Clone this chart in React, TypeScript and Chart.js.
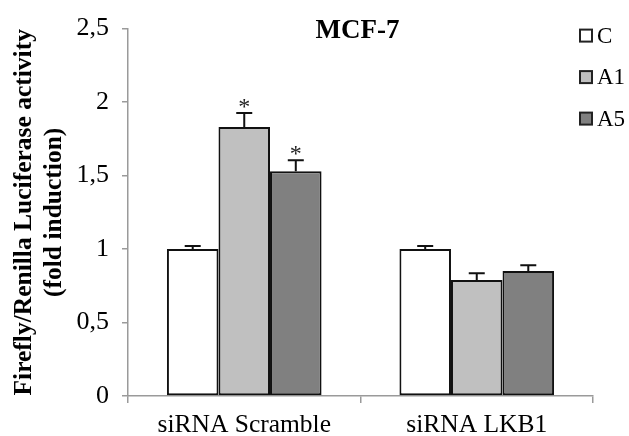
import React, { useEffect, useRef } from 'react';
import { Chart, registerables } from 'chart.js';

Chart.register(...registerables);

// ---- data ----
const categories = ['siRNA Scramble', 'siRNA LKB1'];
const seriesNames = ['C', 'A1', 'A5'];
const cValues = [1.0, 1.0];
const a1Values = [1.83, 0.79];
const a5Values = [1.53, 0.85];
const cErrors = [0.02, 0.02];
const a1Errors = [0.095, 0.045];
const a5Errors = [0.075, 0.04];
const cStars = [false, false];
const a1Stars = [true, false];
const a5Stars = [true, false];
const yTickValues = [0, 0.5, 1, 1.5, 2, 2.5];
const chartTitle = 'MCF-7';
const yAxisTitle = ['Firefly/Renilla Luciferase activity', '(fold induction)'];

const FONT = "'Liberation Serif', 'Times New Roman', Times, serif";
const seriesColors = ['#ffffff', '#c0c0c0', '#808080'];
const seriesValues = [cValues, a1Values, a5Values];
const seriesErrors = [cErrors, a1Errors, a5Errors];
const seriesStars = [cStars, a1Stars, a5Stars];

const errorBarPlugin = {
  id: 'errorBars',
  afterDatasetsDraw(chart: any) {
    const ctx = chart.ctx;
    const yScale = chart.scales.y;
    ctx.save();
    chart.data.datasets.forEach((ds: any, di: number) => {
      const meta = chart.getDatasetMeta(di);
      meta.data.forEach((bar: any, i: number) => {
        const v = ds.data[i];
        const e = ds.errors[i];
        const yTop = yScale.getPixelForValue(v);
        const yErr = yScale.getPixelForValue(v + e);
        const x = bar.x;
        ctx.strokeStyle = '#111';
        ctx.lineWidth = 2;
        ctx.beginPath();
        ctx.moveTo(x, yTop);
        ctx.lineTo(x, yErr);
        ctx.moveTo(x - 8, yErr);
        ctx.lineTo(x + 8, yErr);
        ctx.stroke();
        if (ds.stars[i]) {
          ctx.fillStyle = '#222';
          ctx.font = `24px ${FONT}`;
          ctx.textAlign = 'center';
          ctx.textBaseline = 'alphabetic';
          ctx.fillText('*', x, yErr + 1);
        }
      });
    });
    ctx.restore();
  },
};

const titleLegendPlugin = {
  id: 'titleLegend',
  afterDraw(chart: any) {
    const ctx = chart.ctx;
    const area = chart.chartArea;
    ctx.save();
    ctx.fillStyle = '#000';
    ctx.font = `bold 27px ${FONT}`;
    ctx.textAlign = 'center';
    ctx.textBaseline = 'middle';
    ctx.fillText(chartTitle, (area.left + area.right) / 2 - 3, area.top + 2);

    const x0 = chart.width - 49;
    chart.data.datasets.forEach((ds: any, di: number) => {
      const yc = area.top + 7 + di * 41.5;
      ctx.fillStyle = ds.backgroundColor;
      ctx.fillRect(x0, yc - 6, 12, 12);
      ctx.strokeStyle = '#222';
      ctx.lineWidth = 2;
      ctx.strokeRect(x0, yc - 6, 12, 12);
      ctx.fillStyle = '#000';
      ctx.font = `23px ${FONT}`;
      ctx.textAlign = 'left';
      ctx.textBaseline = 'middle';
      ctx.fillText(ds.label, x0 + 17, yc + 1);
    });
    ctx.restore();
  },
};

export default function App() {
  const ref = useRef<HTMLCanvasElement | null>(null);
  useEffect(() => {
    if (!ref.current) return;
    const chart = new Chart(ref.current, {
      type: 'bar',
      data: {
        labels: categories,
        datasets: seriesNames.map((name, i) => ({
          label: name,
          data: seriesValues[i],
          errors: seriesErrors[i],
          stars: seriesStars[i],
          backgroundColor: seriesColors[i],
          borderColor: '#111',
          borderWidth: 2,
          borderSkipped: false,
          barPercentage: 1,
          categoryPercentage: 0.665,
        })) as any,
      },
      options: {
        responsive: false,
        animation: false,
        layout: { padding: { top: 25, right: 36, left: 0, bottom: 0 } },
        plugins: {
          legend: { display: false },
          title: { display: false },
          tooltip: { enabled: false },
        },
        scales: {
          x: {
            grid: {
              display: true,
              drawOnChartArea: false,
              drawTicks: true,
              tickLength: 7,
              color: '#9a9a9a',
              lineWidth: 1.5,
              offset: true,
            },
            border: { display: true, color: '#9a9a9a', width: 1.5 },
            ticks: {
              color: '#000',
              font: { family: FONT, size: 25.5 },
              padding: 7,
            },
            afterFit(scale: any) {
              scale.height = 40;
            },
          },
          y: {
            min: 0,
            max: 2.5,
            afterBuildTicks(scale: any) {
              scale.ticks = yTickValues.map((v) => ({ value: v }));
            },
            grid: {
              display: true,
              drawOnChartArea: false,
              drawTicks: true,
              tickLength: 6,
              color: '#9a9a9a',
              lineWidth: 1.5,
            },
            border: { display: true, color: '#9a9a9a', width: 1.5 },
            ticks: {
              color: '#000',
              font: { family: FONT, size: 26 },
              padding: 13,
              callback: (v: any) => String(v).replace('.', ','),
            },
            title: {
              display: true,
              text: yAxisTitle,
              color: '#000',
              font: { family: FONT, size: 25.5, weight: 'bold', lineHeight: 1.16 },
              padding: { top: 10, bottom: 0 },
            },
            afterFit(scale: any) {
              scale.width = 128;
            },
          },
        },
      },
      plugins: [errorBarPlugin, titleLegendPlugin],
    } as any);
    return () => chart.destroy();
  }, []);

  return (
    <div style={{ position: 'fixed', left: 0, top: 0, width: 629, height: 436, background: '#fff' }}>
      <canvas ref={ref} width={629} height={436} style={{ display: 'block' }} />
    </div>
  );
}
